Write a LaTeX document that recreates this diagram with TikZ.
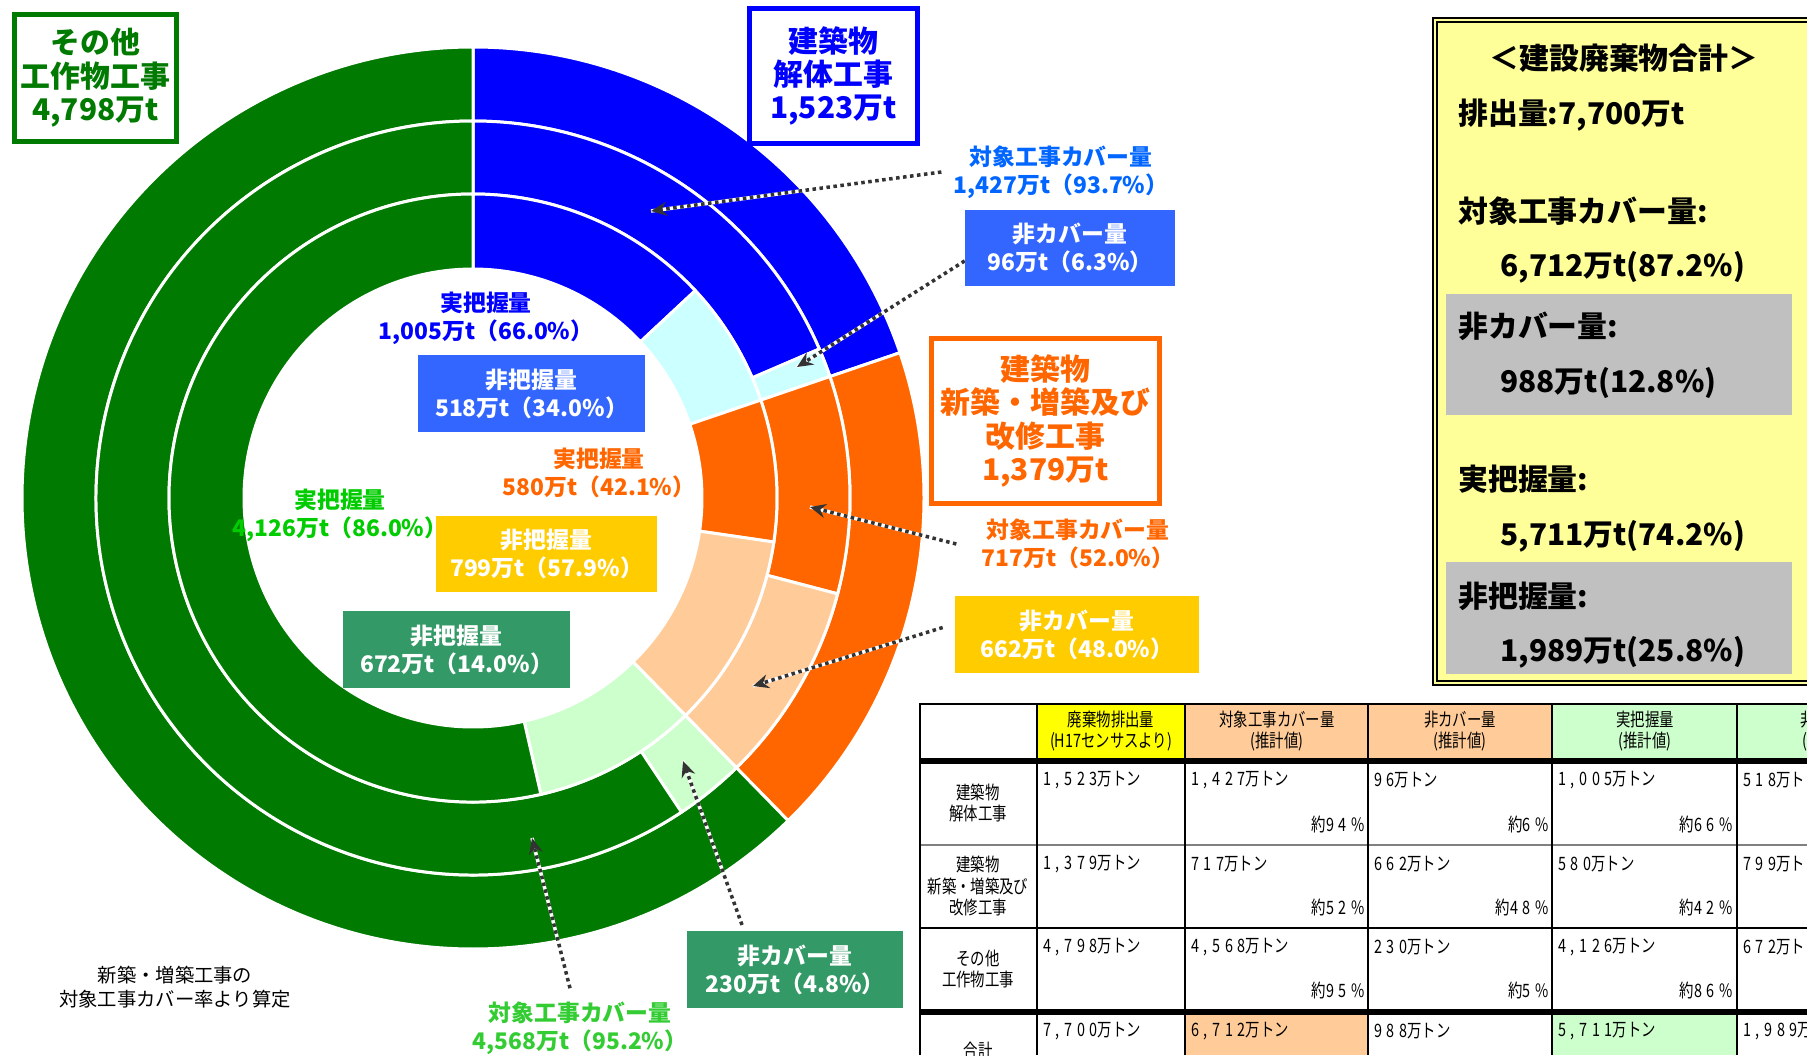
\documentclass[tikz,border=0pt]{standalone}
\usepackage{fontspec}
\setmainfont{Noto Sans CJK JP}
\newfontfamily\tblfont[FakeStretch=0.78]{Noto Sans CJK JP}
\newfontfamily\tblnum[FakeStretch=0.78,LetterSpace=25]{Noto Sans CJK JP}
\usetikzlibrary{arrows.meta}
\definecolor{bl_dark}{RGB}{0, 0, 255}
\definecolor{bl_pale}{RGB}{204, 255, 255}
\definecolor{or_dark}{RGB}{255, 102, 0}
\definecolor{or_pale}{RGB}{255, 204, 153}
\definecolor{gr_dark}{RGB}{0, 122, 0}
\definecolor{gr_pale}{RGB}{204, 255, 204}
\definecolor{bl_box}{RGB}{51, 102, 255}
\definecolor{yl_box}{RGB}{255, 204, 0}
\definecolor{gr_box}{RGB}{51, 153, 102}
\definecolor{bl_txt}{RGB}{0, 102, 255}
\definecolor{gr_txt}{RGB}{0, 204, 0}
\definecolor{gr_lbl}{RGB}{51, 204, 51}
\definecolor{arr_gy}{RGB}{51, 51, 51}
\definecolor{tot_yl}{RGB}{255, 255, 153}
\definecolor{tot_gy}{RGB}{192, 192, 192}
\definecolor{tb_yl}{RGB}{255, 255, 0}
\tikzstyle{none}=[]
\tikzstyle{ttl}=[draw, line width=3pt, fill=white, align=center, inner sep=0pt,
  font=\bfseries\fontsize{17pt}{19pt}\selectfont]
\tikzstyle{lbl}=[align=center, inner sep=0pt, font=\bfseries\fontsize{13pt}{16pt}\selectfont]
\tikzstyle{fbx}=[lbl, text=white, minimum height=1.53cm]
\tikzstyle{tot}=[anchor=west, inner sep=0pt, font=\bfseries\fontsize{17pt}{19pt}\selectfont]
\tikzstyle{note}=[align=center, inner sep=0pt, font=\fontsize{11pt}{14pt}\selectfont]
\tikzstyle{th}=[align=center, inner sep=0pt, font=\tblfont\fontsize{10.5pt}{12pt}\selectfont]
\tikzstyle{tv}=[anchor=west, inner sep=0pt, font=\tblfont\fontsize{10.5pt}{12pt}\selectfont]
\tikzstyle{tp}=[anchor=east, inner sep=0pt, font=\tblfont\fontsize{10.5pt}{12pt}\selectfont]
\tikzstyle{arr}=[draw=arr_gy, line width=2pt, dash pattern=on 2pt off 2pt,
  -{Stealth[length=9pt, width=8pt, inset=3pt]},
  preaction={draw=white, solid, line width=2pt, -}]
% one piece of a ring: colour, inner radius, outer radius, from, to
\newcommand{\donutpart}[5]{%
  \filldraw [fill=#1, draw=white, line width=1.7pt] (#4:#3)
    arc[start angle=#4, end angle=#5, radius=#3] -- (#5:#2)
    arc[start angle=#5, end angle=#4, radius=#2] -- cycle;}
\newcommand{\tton}[1]{{\tblnum #1}万トン}
\newcommand{\tpct}[1]{約{\tblnum #1\%}}

\begin{document}
\begin{tikzpicture}[x=0.02cm, y=-0.02cm]
    \useasboundingbox (0, 0) rectangle (1807, 1055);
    \clip (0, 0) rectangle (1807, 1055);
    \begin{scope}[shift={(473, 498)}]
        % outer ring
        \donutpart{bl_dark}{377}{451}{-90}{-18.795}
        \donutpart{or_dark}{377}{451}{-18.795}{45.678}
        \donutpart{gr_dark}{377}{451}{45.678}{270}
        % middle ring
        \donutpart{bl_dark}{304}{377}{-90}{-23.283}
        \donutpart{bl_pale}{304}{377}{-23.283}{-18.795}
        \donutpart{or_dark}{304}{377}{-18.795}{14.727}
        \donutpart{or_pale}{304}{377}{14.727}{45.678}
        \donutpart{gr_pale}{304}{377}{45.678}{56.431}
        \donutpart{gr_dark}{304}{377}{56.431}{270}
        % inner ring
        \donutpart{bl_dark}{229}{304}{-90}{-43.013}
        \donutpart{bl_pale}{229}{304}{-43.013}{-18.795}
        \donutpart{or_dark}{229}{304}{-18.795}{8.322}
        \donutpart{or_pale}{229}{304}{8.322}{45.678}
        \donutpart{gr_pale}{229}{304}{45.678}{77.096}
        \donutpart{gr_dark}{229}{304}{77.096}{270}
    \end{scope}

    \node [style=ttl, draw=gr_dark, text=gr_dark, minimum width=3.24cm, minimum height=2.54cm] (0) at (95.5, 78) {その他\\工作物工事\\4,798万t};
    \node [style=ttl, draw=bl_dark, text=bl_dark, minimum width=3.36cm, minimum height=2.7cm] (1) at (833.5, 76) {建築物\\解体工事\\1,523万t};
    \node [style=ttl, draw=or_dark, text=or_dark, minimum width=4.56cm, minimum height=3.3cm] (2) at (1045.5, 421) {建築物\\新築・増築及び\\改修工事\\1,379万t};

    \node [style=lbl, text=bl_txt] (3) at (1061, 172) {対象工事カバー量\\1,427万t（93.7\%）};
    \node [style=fbx, fill=bl_box, minimum width=4.2cm] (4) at (1070, 248) {非カバー量\\96万t（6.3\%）};
    \node [style=lbl, text=bl_dark] (5) at (486, 318) {実把握量\\1,005万t（66.0\%）};
    \node [style=fbx, fill=bl_box, minimum width=4.54cm] (6) at (531.5, 393.5) {非把握量\\518万t（34.0\%）};
    \node [style=lbl, text=or_dark] (7) at (599, 473) {実把握量\\580万t（42.1\%）};
    \node [style=fbx, fill=yl_box, minimum width=4.42cm] (8) at (546.5, 554) {非把握量\\799万t（57.9\%）};
    \node [style=lbl, text=gr_txt] (9) at (340, 515) {実把握量\\4,126万t（86.0\%）};
    \node [style=fbx, fill=gr_box, minimum width=4.54cm] (10) at (456.5, 649.5) {非把握量\\672万t（14.0\%）};
    \node [style=lbl, text=or_dark] (11) at (1078, 544) {対象工事カバー量\\717万t（52.0\%）};
    \node [style=fbx, fill=yl_box, minimum width=4.88cm] (12) at (1077, 634.5) {非カバー量\\662万t（48.0\%）};
    \node [style=fbx, fill=gr_box, minimum width=4.32cm] (13) at (795, 969.5) {非カバー量\\230万t（4.8\%）};
    \node [style=lbl, text=gr_lbl] (14) at (580, 1028) {対象工事カバー量\\4,568万t（95.2\%）};
    \node [style=note] (15) at (175, 987) {新築・増築工事の\\対象工事カバー率より算定};

    \coordinate (a1) at (651, 211);
    \coordinate (a2) at (797, 367);
    \coordinate (a3) at (810, 507);
    \coordinate (a4) at (753, 686);
    \coordinate (a5) at (683, 761);
    \coordinate (a6) at (532, 838);
    \draw [style=arr] ([xshift=-0.24cm]3.west) to (a1);
    \draw [style=arr] (4.187) to (a2);
    \draw [style=arr] ([xshift=-0.5cm]11.west) to (a3);
    \draw [style=arr] ([xshift=-0.24cm, yshift=0.14cm]12.west) to (a4);
    \draw [style=arr] ([xshift=-1.06cm, yshift=0.12cm]13.north) to (a5);
    \draw [style=arr] ([xshift=-0.2cm, yshift=0.26cm]14.north) to (a6);

    % totals
    \fill [tot_yl] (1432, 17) rectangle (1830, 686);
    \fill [tot_gy] (1446, 294) rectangle (1792, 415);
    \fill [tot_gy] (1446, 562) rectangle (1792, 674);
    \draw [double=tot_yl, double distance=1.2pt, line width=1pt] (1435, 20) rectangle (1830, 683);
    \node [style=tot, anchor=center] (16) at (1624, 58) {＜建設廃棄物合計＞};
    \node [style=tot] (17) at (1458, 115) {排出量:7,700万t};
    \node [style=tot] (18) at (1458, 211) {対象工事カバー量:};
    \node [style=tot] (19) at (1500, 267) {6,712万t(87.2\%)};
    \node [style=tot] (20) at (1458, 326) {非カバー量:};
    \node [style=tot] (21) at (1500, 383) {988万t(12.8\%)};
    \node [style=tot] (22) at (1458, 479) {実把握量:};
    \node [style=tot] (23) at (1500, 536) {5,711万t(74.2\%)};
    \node [style=tot] (24) at (1458, 596) {非把握量:};
    \node [style=tot] (25) at (1500, 652) {1,989万t(25.8\%)};

    % table
    \fill [tb_yl] (1037, 704) rectangle (1185, 761);
    \fill [or_pale] (1185, 704) rectangle (1552, 761);
    \fill [gr_pale] (1552, 704) rectangle (1807, 761);
    \fill [or_pale] (1185, 1012) rectangle (1368, 1055);
    \fill [gr_pale] (1552, 1012) rectangle (1737, 1055);
    \draw [line width=1.6pt] (920, 704) -- (1807, 704) (920, 928) -- (1807, 928);
    \draw [line width=3pt] (920, 761) -- (1807, 761) (920, 1012) -- (1807, 1012);
    \draw [line width=1pt, gray] (920, 845) -- (1807, 845);
    \draw [line width=1.4pt] (920, 703) -- (920, 1055) (1037, 703) -- (1037, 1055)
        (1185, 703) -- (1185, 1055) (1368, 703) -- (1368, 1055)
        (1552, 703) -- (1552, 1055) (1737, 703) -- (1737, 1055);
    \node [style=th] (26) at (1111, 731) {廃棄物排出量\\(H17センサスより)};
    \node [style=th] (27) at (1277, 731) {対象工事カバー量\\(推計値)};
    \node [style=th] (28) at (1460, 731) {非カバー量\\(推計値)};
    \node [style=th] (29) at (1645, 731) {実把握量\\(推計値)};
    \node [style=th] (30) at (1829, 731) {非把握量\\(推計値)};
    \node [style=th] (31) at (978, 803) {建築物\\解体工事};
    \node [style=th] (32) at (978, 886) {建築物\\新築・増築及び\\改修工事};
    \node [style=th] (33) at (978, 969) {その他\\工作物工事};
    \node [style=th] (34) at (978, 1050) {合計};
    \node [style=tv] (35) at (1043, 780) {\tton{1,523}};
    \node [style=tv] (36) at (1191, 780) {\tton{1,427}};
    \node [style=tp] (37) at (1365, 824) {\tpct{94}};
    \node [style=tv] (38) at (1374, 780) {\tton{96}};
    \node [style=tp] (39) at (1549, 824) {\tpct{6}};
    \node [style=tv] (40) at (1558, 780) {\tton{1,005}};
    \node [style=tp] (41) at (1733, 824) {\tpct{66}};
    \node [style=tv] (42) at (1743, 780) {\tton{518}};
    \node [style=tv] (43) at (1043, 864) {\tton{1,379}};
    \node [style=tv] (44) at (1191, 864) {\tton{717}};
    \node [style=tp] (45) at (1365, 907) {\tpct{52}};
    \node [style=tv] (46) at (1374, 864) {\tton{662}};
    \node [style=tp] (47) at (1549, 907) {\tpct{48}};
    \node [style=tv] (48) at (1558, 864) {\tton{580}};
    \node [style=tp] (49) at (1733, 907) {\tpct{42}};
    \node [style=tv] (50) at (1743, 864) {\tton{799}};
    \node [style=tv] (51) at (1043, 947) {\tton{4,798}};
    \node [style=tv] (52) at (1191, 947) {\tton{4,568}};
    \node [style=tp] (53) at (1365, 990) {\tpct{95}};
    \node [style=tv] (54) at (1374, 947) {\tton{230}};
    \node [style=tp] (55) at (1549, 990) {\tpct{5}};
    \node [style=tv] (56) at (1558, 947) {\tton{4,126}};
    \node [style=tp] (57) at (1733, 990) {\tpct{86}};
    \node [style=tv] (58) at (1743, 947) {\tton{672}};
    \node [style=tv] (59) at (1043, 1031) {\tton{7,700}};
    \node [style=tv] (60) at (1191, 1031) {\tton{6,712}};
    \node [style=tv] (61) at (1374, 1031) {\tton{988}};
    \node [style=tv] (62) at (1558, 1031) {\tton{5,711}};
    \node [style=tv] (63) at (1743, 1031) {\tton{1,989}};
\end{tikzpicture}
\end{document}
